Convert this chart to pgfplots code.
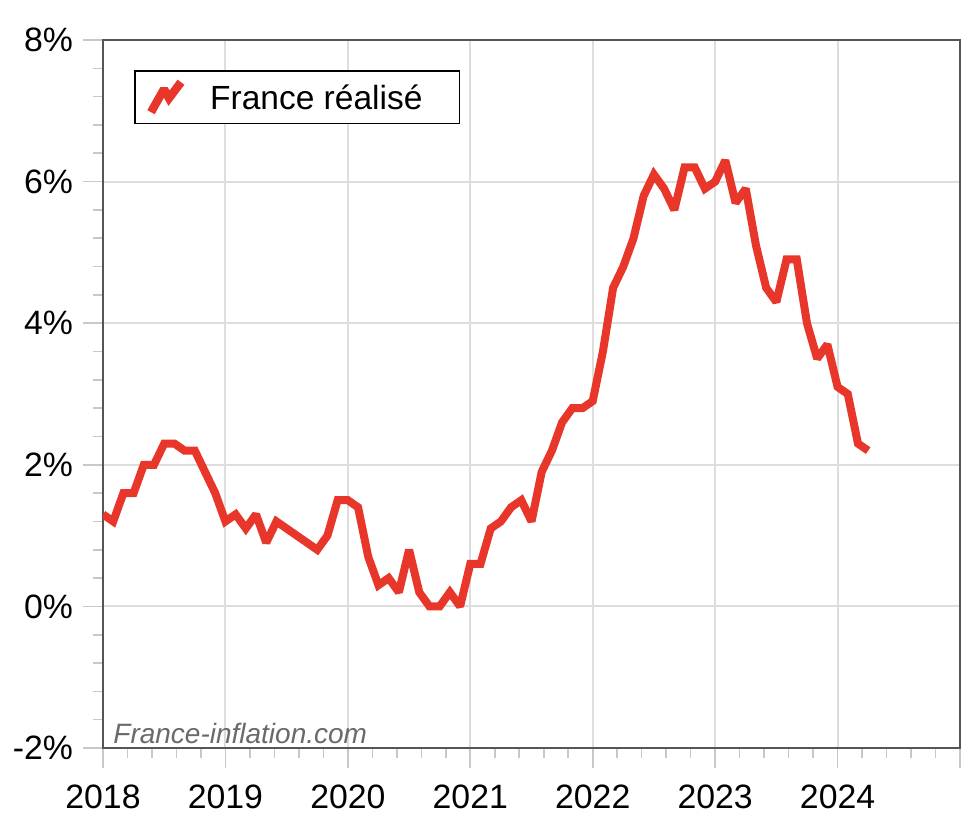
\documentclass[border=0pt]{standalone}
\usepackage{fontspec}
\setmainfont{Liberation Sans}
\usepackage{pgfplots}
\usepackage{pgfplotstable}
\pgfplotsset{compat=1.18}

\definecolor{lineRed}{HTML}{E8372A}
\definecolor{frameGray}{HTML}{555555}
\definecolor{gridGray}{HTML}{DDDDDD}
\definecolor{tickGray}{HTML}{C8C8C8}
\definecolor{markGray}{HTML}{6A6A6A}

% Year-on-year consumer price inflation, France (%), monthly
\pgfplotstableread{
year month value
2018 1 1.3
2018 2 1.2
2018 3 1.6
2018 4 1.6
2018 5 2.0
2018 6 2.0
2018 7 2.3
2018 8 2.3
2018 9 2.2
2018 10 2.2
2018 11 1.9
2018 12 1.6
2019 1 1.2
2019 2 1.3
2019 3 1.1
2019 4 1.3
2019 5 0.9
2019 6 1.2
2019 7 1.1
2019 8 1.0
2019 9 0.9
2019 10 0.8
2019 11 1.0
2019 12 1.5
2020 1 1.5
2020 2 1.4
2020 3 0.7
2020 4 0.3
2020 5 0.4
2020 6 0.2
2020 7 0.8
2020 8 0.2
2020 9 0.0
2020 10 0.0
2020 11 0.2
2020 12 0.0
2021 1 0.6
2021 2 0.6
2021 3 1.1
2021 4 1.2
2021 5 1.4
2021 6 1.5
2021 7 1.2
2021 8 1.9
2021 9 2.2
2021 10 2.6
2021 11 2.8
2021 12 2.8
2022 1 2.9
2022 2 3.6
2022 3 4.5
2022 4 4.8
2022 5 5.2
2022 6 5.8
2022 7 6.1
2022 8 5.9
2022 9 5.6
2022 10 6.2
2022 11 6.2
2022 12 5.9
2023 1 6.0
2023 2 6.3
2023 3 5.7
2023 4 5.9
2023 5 5.1
2023 6 4.5
2023 7 4.3
2023 8 4.9
2023 9 4.9
2023 10 4.0
2023 11 3.5
2023 12 3.7
2024 1 3.1
2024 2 3.0
2024 3 2.3
2024 4 2.2
}\inflation

\begin{document}
\begin{tikzpicture}
\path[use as bounding box] (-51.5pt,-36pt) rectangle (437.5pt,374pt);
\begin{axis}[
  at={(0pt,0pt)}, anchor=south west,
  scale only axis, width=428.5pt, height=354pt,
  xmin=2018, xmax=2025, ymin=-2, ymax=8,
  xtick={2018,2019,2020,2021,2022,2023,2024,2025},
  xticklabels={2018,2019,2020,2021,2022,2023,2024,},
  minor x tick num=4,
  ytick={-2,0,2,4,6,8},
  yticklabels={-2\%,0\%,2\%,4\%,6\%,8\%},
  minor y tick num=4,
  xtick pos=bottom, ytick pos=left,
  tick align=outside,
  major tick length=10pt, minor tick length=5pt,
  every tick/.style={draw=tickGray, line width=0.8pt},
  every minor tick/.style={draw=tickGray, line width=0.8pt},
  xmajorgrids, ymajorgrids,
  major grid style={draw=gridGray, line width=1pt},
  axis line style={draw=frameGray, line width=1pt},
  tick label style={font=\fontsize{16.9}{20}\selectfont, text=black},
  yticklabel style={anchor=east, xshift=-1.5pt},
  xticklabel style={anchor=north, yshift=-5pt},
  legend style={
    at={(axis description cs:0,1)}, anchor=north west,
    xshift=15.5pt, yshift=-15pt,
    draw=black, line width=0.8pt, fill=white,
    inner xsep=6pt, inner ysep=3.6pt,
    font=\fontsize{16.75}{20}\selectfont,
    nodes={inner sep=2pt},
  },
  legend image code/.code={
    \draw[#1, line width=4.2pt, line join=miter, line cap=butt]
      (0pt,-7.5pt) -- (6.5pt,4pt) -- (9pt,-0.5pt) -- (15pt,7.5pt);
  },
]
\addplot[draw=lineRed, line width=4pt, line join=miter, miter limit=2]
  table[x expr=\thisrow{year}+(\thisrow{month}-1)/12, y=value] {\inflation};
\addlegendentry{\rule[-5pt]{0pt}{18.5pt}\kern10.5pt France réalisé\kern10.5pt}
\node[anchor=base west, inner sep=0pt, font=\fontsize{14}{16}\selectfont\itshape, text=markGray]
  at (rel axis cs:0,0) [xshift=5pt, yshift=2.5pt] {France-inflation.com};
\end{axis}
\end{tikzpicture}
\end{document}
